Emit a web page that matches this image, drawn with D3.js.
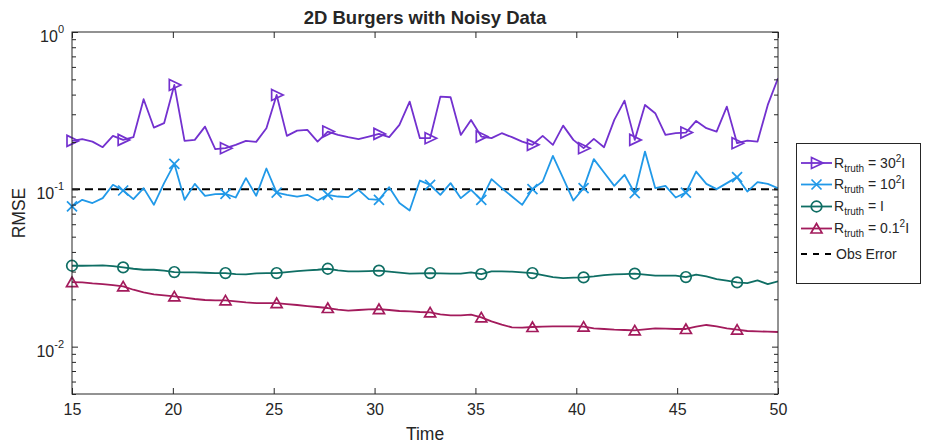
<!DOCTYPE html>
<html>
<head>
<meta charset="utf-8">
<script src="https://cdn.jsdelivr.net/npm/d3@7"></script>
<style>
  body { margin: 0; background: #fff; }
  svg { display: block; }
  text { font-family: "Liberation Sans", Arial, Helvetica, sans-serif; fill: #262626; }
</style>
</head>
<body>
<svg id="chart" width="926" height="446"></svg>
<script>
// Time grid of the saved RMSE samples
const tStart = 15, tEnd = 50, nSamples = 70;
const markerEvery = 5;

const xTicks = [15, 20, 25, 30, 35, 40, 45, 50];
const yMajorTicks = [1, 0.1, 0.01];
const yMajorExps = ["0", "-1", "-2"];
const yMinorTicks = [0.005, 0.006, 0.007, 0.008, 0.009,
                     0.02, 0.03, 0.04, 0.05, 0.06, 0.07, 0.08, 0.09,
                     0.2, 0.3, 0.4, 0.5, 0.6, 0.7, 0.8, 0.9];

const obsError = 0.1;

// RMSE for R_truth = 30^2 I
const rmse30 = [0.2032,0.2083,0.2011,0.1853,0.2186,0.2062,0.2145,0.3738,0.2469,0.2632,
                0.4607,0.2032,0.2062,0.2505,0.1800,0.1827,0.1917,0.2032,0.2002,0.2447,
                0.3981,0.2186,0.2360,0.2386,0.2011,0.2328,0.2218,0.2145,0.2083,0.2164,
                0.2251,0.2145,0.2567,0.3610,0.2114,0.2114,0.3883,0.3849,0.2218,0.2762,
                0.2164,0.2114,0.2274,0.2145,0.2011,0.1917,0.2186,0.1917,0.2541,0.2062,
                0.1827,0.2092,0.1853,0.2762,0.3663,0.2062,0.3439,0.3046,0.2218,0.2274,
                0.2294,0.2722,0.2447,0.2328,0.3355,0.1965,0.2041,0.2011,0.3439,0.5082];

// RMSE for R_truth = 10^2 I
const rmse10 = [0.0778,0.0858,0.0818,0.0879,0.1068,0.0983,0.0867,0.1018,0.0797,0.1095,
                0.1452,0.0858,0.1083,0.0909,0.0932,0.0936,0.0887,0.1178,0.0909,0.1356,
                0.0954,0.0923,0.0900,0.0923,0.0849,0.0923,0.0900,0.0892,0.0993,0.0867,
                0.0858,0.1032,0.0818,0.0733,0.1137,0.1068,0.0923,0.1095,0.0879,0.0993,
                0.0858,0.1161,0.1018,0.0900,0.0797,0.1003,0.1121,0.1632,0.1178,0.0849,
                0.1018,0.1555,0.1279,0.1052,0.1237,0.0946,0.1738,0.1018,0.1052,0.0887,
                0.0954,0.1297,0.1083,0.1003,0.1095,0.1195,0.0968,0.1111,0.1083,0.1018];

// RMSE for R_truth = I
const rmse1 = [0.03268,0.03268,0.03276,0.03284,0.03252,0.03189,0.03127,0.03082,0.03082,0.03038,
               0.02979,0.02965,0.02965,0.02950,0.02936,0.02936,0.02894,0.02880,0.02922,0.02936,
               0.02936,0.02979,0.03023,0.03053,0.03082,0.03127,0.03053,0.03008,0.03008,0.03023,
               0.03038,0.02994,0.02950,0.02908,0.02922,0.02936,0.02922,0.02908,0.02908,0.02965,
               0.02894,0.03008,0.03008,0.02994,0.02965,0.02936,0.02851,0.02769,0.02729,0.02742,
               0.02756,0.02797,0.02851,0.02880,0.02894,0.02908,0.02866,0.02824,0.02824,0.02824,
               0.02769,0.02866,0.02797,0.02690,0.02624,0.02561,0.02536,0.02638,0.02499,0.02599];

// RMSE for R_truth = 0.1^2 I
const rmse01 = [0.02574,0.02561,0.02524,0.02499,0.02463,0.02415,0.02300,0.02213,0.02149,0.02118,
                0.02087,0.02047,0.02008,0.01979,0.01969,0.01969,0.01940,0.01912,0.01893,0.01893,
                0.01893,0.01866,0.01839,0.01812,0.01786,0.01760,0.01718,0.01693,0.01710,0.01726,
                0.01734,0.01710,0.01685,0.01677,0.01660,0.01652,0.01604,0.01581,0.01581,0.01597,
                0.01535,0.01448,0.01379,0.01327,0.01320,0.01333,0.01340,0.01346,0.01346,0.01346,
                0.01340,0.01308,0.01295,0.01282,0.01276,0.01269,0.01288,0.01308,0.01301,0.01295,
                0.01295,0.01340,0.01373,0.01346,0.01308,0.01282,0.01257,0.01251,0.01245,0.01239];

const seriesValues = [rmse30, rmse10, rmse1, rmse01];
const seriesColors = ["#7331cf", "#2199e8", "#0f6e64", "#a31b5c"];
const seriesMarkers = ["triRight", "cross", "circle", "triUp"];
const seriesScale = ["30", "10", "", "0.1"];

const plot = { left: 72, right: 778, top: 32, bottom: 394 };
const axisColor = "#262626";

const svg = d3.select("#chart");
const x = d3.scaleLinear().domain([tStart, tEnd]).range([plot.left, plot.right]);
const y = d3.scaleLog().domain([0.005, 1]).range([plot.bottom, plot.top]);
const times = d3.range(nSamples).map(i => tStart + i * (tEnd - tStart) / (nSamples - 1));

// marker shapes, centred on (0,0)
function markerPath(type) {
  switch (type) {
    case "triRight": return "M-5,-5.5L6.5,0L-5,5.5Z";
    case "triUp":    return "M0,-5L5.5,4.5L-5.5,4.5Z";
    case "cross":    return "M-5,-5L5,5M-5,5L5,-5";
  }
}
function drawMarker(g, type, cx, cy, color) {
  const path = type === "circle"
    ? g.append("circle").attr("cx", cx).attr("cy", cy).attr("r", 5.3)
    : g.append("path").attr("d", markerPath(type)).attr("transform", `translate(${cx},${cy})`);
  path.attr("fill", "none").attr("stroke", color).attr("stroke-width", 1.7).attr("stroke-linejoin", "miter");
}

svg.append("defs").append("clipPath").attr("id", "plotClip")
  .append("rect").attr("x", plot.left).attr("y", plot.top)
  .attr("width", plot.right - plot.left).attr("height", plot.bottom - plot.top);

// observation error reference line
svg.append("line")
  .attr("x1", x(tStart)).attr("x2", x(tEnd))
  .attr("y1", y(obsError)).attr("y2", y(obsError))
  .attr("stroke", "#000").attr("stroke-width", 2).attr("stroke-dasharray", "8,5");

// RMSE curves
const line = d3.line().x((d, i) => x(times[i])).y(d => y(d));
seriesValues.forEach((vals, s) => {
  svg.append("path").datum(vals)
    .attr("clip-path", "url(#plotClip)")
    .attr("d", line)
    .attr("fill", "none").attr("stroke", seriesColors[s])
    .attr("stroke-width", 1.8).attr("stroke-linejoin", "round");
  const mg = svg.append("g");
  vals.forEach((v, i) => {
    if (i % markerEvery === 0) drawMarker(mg, seriesMarkers[s], x(times[i]), y(v), seriesColors[s]);
  });
});

// axes frame
svg.append("rect")
  .attr("x", plot.left).attr("y", plot.top)
  .attr("width", plot.right - plot.left).attr("height", plot.bottom - plot.top)
  .attr("fill", "none").attr("stroke", axisColor).attr("stroke-width", 1);

function styleAxis(g) {
  g.select(".domain").remove();
  g.selectAll("line").attr("stroke", axisColor);
  g.selectAll("text").attr("font-size", 16).attr("fill", axisColor)
    .style("font-family", '"Liberation Sans", Arial, sans-serif');
}

svg.append("g").attr("transform", `translate(0,${plot.bottom})`)
  .call(d3.axisBottom(x).tickValues(xTicks).tickSize(-6).tickPadding(10).tickFormat(d3.format("d")))
  .call(styleAxis);
svg.append("g").attr("transform", `translate(0,${plot.top})`)
  .call(d3.axisTop(x).tickValues(xTicks).tickSize(-6).tickFormat(""))
  .call(styleAxis);

[[d3.axisLeft, plot.left], [d3.axisRight, plot.right]].forEach(([ax, pos]) => {
  svg.append("g").attr("transform", `translate(${pos},0)`)
    .call(ax(y).tickValues(yMinorTicks).tickSize(-4).tickFormat(""))
    .call(styleAxis);
  svg.append("g").attr("transform", `translate(${pos},0)`)
    .call(ax(y).tickValues(yMajorTicks).tickSize(-6).tickFormat(""))
    .call(styleAxis);
});

// y tick labels as powers of ten
yMajorTicks.forEach((t, k) => {
  const tx = svg.append("text")
    .attr("x", 64).attr("y", y(t) + 10)
    .attr("text-anchor", "end").attr("font-size", 16);
  tx.append("tspan").text("10");
  tx.append("tspan").attr("font-size", 11).attr("dy", -9).text(yMajorExps[k]);
});

// titles
svg.append("text").attr("x", (plot.left + plot.right) / 2).attr("y", 24)
  .attr("text-anchor", "middle").attr("font-size", 18.5).attr("font-weight", "bold")
  .attr("fill", "#000").text("2D Burgers with Noisy Data");
svg.append("text").attr("x", (plot.left + plot.right) / 2).attr("y", 440)
  .attr("text-anchor", "middle").attr("font-size", 17.5).text("Time");
svg.append("text")
  .attr("transform", `translate(25,${(plot.top + plot.bottom) / 2}) rotate(-90)`)
  .attr("text-anchor", "middle").attr("font-size", 17.5).text("RMSE");

// legend
const leg = { x: 796, y: 143, w: 124, h: 140 };
svg.append("rect").attr("x", leg.x + 0.5).attr("y", leg.y + 0.5)
  .attr("width", leg.w).attr("height", leg.h)
  .attr("fill", "#fff").attr("stroke", axisColor).attr("stroke-width", 1);
const rowY = [163, 184.5, 206.5, 228.5, 254];
const lineX0 = 801, lineX1 = 832, textX = 834;
const legFont = 14, legSmall = 10;

seriesValues.forEach((vals, s) => {
  const ry = rowY[s];
  svg.append("line").attr("x1", lineX0).attr("x2", lineX1).attr("y1", ry).attr("y2", ry)
    .attr("stroke", seriesColors[s]).attr("stroke-width", 1.8);
  drawMarker(svg.append("g"), seriesMarkers[s], (lineX0 + lineX1) / 2, ry, seriesColors[s]);
  const t = svg.append("text").attr("x", textX).attr("y", ry + 4.5).attr("font-size", legFont);
  t.append("tspan").text("R");
  t.append("tspan").attr("font-size", legSmall).attr("dy", 4).text("truth");
  if (seriesScale[s] === "") {
    t.append("tspan").attr("dy", -4).text(" = I");
  } else {
    t.append("tspan").attr("dy", -4).text(" = " + seriesScale[s]);
    t.append("tspan").attr("font-size", legSmall).attr("dy", -6).text("2");
    t.append("tspan").attr("dy", 6).text("I");
  }
});
svg.append("line").attr("x1", lineX0).attr("x2", lineX1).attr("y1", rowY[4]).attr("y2", rowY[4])
  .attr("stroke", "#000").attr("stroke-width", 1.8).attr("stroke-dasharray", "6,6");
svg.append("text").attr("x", textX + 2).attr("y", rowY[4] + 5).attr("font-size", legFont).text("Obs Error");
</script>
</body>
</html>
